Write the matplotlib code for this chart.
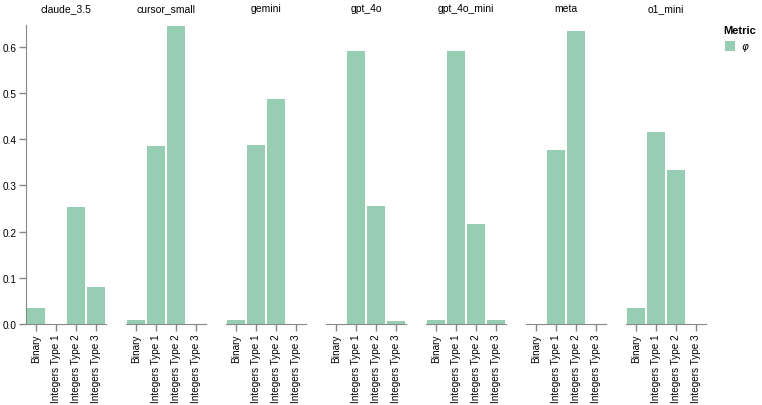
import matplotlib
matplotlib.use("Agg")
import matplotlib.pyplot as plt
import numpy as np

plt.rcParams['font.family'] = ['Liberation Sans', 'DejaVu Sans']

models = ["claude_3.5", "cursor_small", "gemini", "gpt_4o", "gpt_4o_mini", "meta", "o1_mini"]
categories = ["Binary", "Integers Type 1", "Integers Type 2", "Integers Type 3"]
claude_3_5 = [0.034, 0.0, 0.253, 0.080]
cursor_small = [0.009, 0.386, 0.645, 0.0]
gemini = [0.009, 0.388, 0.487, 0.0]
gpt_4o = [0.0, 0.591, 0.256, 0.007]
gpt_4o_mini = [0.009, 0.591, 0.216, 0.009]
meta = [0.0, 0.377, 0.635, 0.0]
o1_mini = [0.035, 0.416, 0.333, 0.0]
values = [claude_3_5, cursor_small, gemini, gpt_4o, gpt_4o_mini, meta, o1_mini]
yticks = [0.0, 0.1, 0.2, 0.3, 0.4, 0.5, 0.6]
ymax = 0.6476

W, H = 762, 406
fig = plt.figure(figsize=(W/100, H/100), dpi=100)
color = "#97CEB3"
axis_col = "#888888"

for i, (m, vals) in enumerate(zip(models, values)):
    x0 = 26 + i*100
    ax = fig.add_axes([x0/W, (H-325)/H, 80/W, 299/H])
    x = np.arange(len(categories))
    ax.bar(x, vals, width=0.9, color=color, edgecolor="none")
    ax.set_xlim(-0.5, len(categories)-0.5)
    ax.set_ylim(0, ymax)
    ax.set_xticks(x)
    ax.set_xticklabels(categories, rotation=90, fontsize=7.2, color="#000000")
    ax.tick_params(axis='x', length=5, width=1, color=axis_col, pad=2)
    for s in ["top", "right"]:
        ax.spines[s].set_visible(False)
    ax.spines["bottom"].set_color(axis_col)
    if i == 0:
        ax.spines["left"].set_color(axis_col)
        ax.set_yticks(yticks)
        ax.set_yticklabels([f"{v:.1f}" for v in yticks], fontsize=7.2)
        ax.tick_params(axis='y', length=5, width=1, color=axis_col, pad=2)
    else:
        ax.spines["left"].set_visible(False)
        ax.set_yticks([])
    ax.set_title(m, fontsize=7.5, pad=10)
    ax.patch.set_alpha(0)

# legend
fig.text(723/W, 1-31/H, "Metric", fontsize=8, fontweight="bold", va="center", ha="left")
fig.patches.append(plt.Rectangle((725/W, 1-52/H), 10/W, 10/H, transform=fig.transFigure,
                                 facecolor=color, edgecolor="none"))
fig.text(741/W, 1-47/H, "φ", fontsize=7.5, fontstyle="italic", va="center", ha="left",
         family=['DejaVu Sans'])

fig.savefig("out.png", dpi=100)
